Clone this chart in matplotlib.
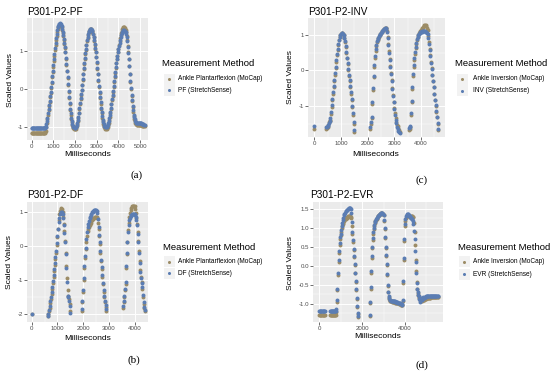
import numpy as np
import matplotlib
matplotlib.use('Agg')
import matplotlib.pyplot as plt
from matplotlib.patches import Rectangle

plt.rcParams['font.family'] = ['Liberation Sans', 'DejaVu Sans']
plt.rcParams['axes.unicode_minus'] = False

W, H = 550, 371
N = np.nan
STEP_MS = 25  # sampling step of the value lists below (ms); one row = 500 ms

# ---------------- Panel (a): PF ----------------
pf_mocap = [
    -1.17, -1.17, -1.17, -1.17, -1.17, -1.17, -1.17, -1.17, -1.17, -1.17, -1.17, -1.17, -1.17, -1.17, -1.17, -1.17, -1.17, -1.17, -1.17, -1.17,
    -1.17, -1.17, -1.17, -1.17, -1.17, -1.15, -1.10, -1.01, -0.90, -0.79, -0.68, -0.57, -0.45, -0.34, -0.22, -0.10, 0.02, 0.16, 0.30, 0.44,
    0.58, 0.73, 0.88, 1.02, 1.15, 1.28, 1.40, 1.50, 1.57, 1.62, 1.65, 1.67, 1.68, 1.67, 1.66, 1.62, 1.56, 1.48, 1.40, 1.30,
    1.18, 1.08, 0.96, 0.80, 0.63, 0.46, 0.28, 0.10, -0.07, -0.24, -0.40, -0.55, -0.68, -0.79, -0.88, -0.95, -1.00, -1.03, -1.05, -1.06,
    -1.06, -1.05, -1.02, -0.98, -0.92, -0.85, -0.77, -0.65, -0.52, -0.40, -0.27, -0.15, -0.04, 0.09, 0.23, 0.38, 0.52, 0.66, 0.80, 0.92,
    1.03, 1.15, 1.26, 1.35, 1.43, 1.49, 1.53, 1.55, 1.57, 1.57, 1.57, 1.54, 1.50, 1.44, 1.36, 1.27, 1.16, 1.06, 0.96, 0.83,
    0.68, 0.53, 0.38, 0.21, 0.05, -0.10, -0.25, -0.39, -0.53, -0.65, -0.76, -0.85, -0.92, -0.98, -1.02, -1.04, -1.06, -1.06, -1.06, -1.04,
    -1.00, -0.95, -0.90, -0.82, -0.73, -0.63, -0.52, -0.41, -0.30, -0.19, -0.07, 0.06, 0.18, 0.31, 0.43, 0.55, 0.67, 0.78, 0.88, 0.97,
    1.06, 1.16, 1.25, 1.34, 1.42, 1.48, 1.53, 1.57, 1.60, 1.62, 1.62, 1.62, 1.60, 1.56, 1.50, 1.40, 1.28, 1.13, 0.97, 0.79,
    0.60, 0.39, 0.18, 0.00, -0.18, -0.33, -0.48, -0.61, -0.72, -0.79, -0.85, -0.89, -0.92, -0.94, -0.95, -0.95, -0.95, -0.95, -0.95, -0.95,
    -0.95, -0.95, -0.96, -0.96, -0.97, -0.97, -0.98, -0.98, -0.98,
]
pf_stretch = [
    -1.03, -1.03, -1.03, -1.03, -1.03, -1.03, -1.03, -1.03, -1.03, -1.03, -1.03, -1.03, -1.03, -1.03, -1.03, -1.03, -1.03, -1.03, -1.03, -1.03,
    -1.03, -1.03, -1.03, -1.03, -1.03, -1.02, -1.00, -0.94, -0.85, -0.76, -0.65, -0.54, -0.42, -0.31, -0.20, -0.08, 0.05, 0.19, 0.33, 0.47,
    0.62, 0.78, 0.93, 1.07, 1.20, 1.33, 1.45, 1.55, 1.62, 1.67, 1.70, 1.72, 1.73, 1.72, 1.70, 1.65, 1.58, 1.50, 1.42, 1.32,
    1.20, 1.10, 0.98, 0.82, 0.65, 0.48, 0.30, 0.12, -0.05, -0.22, -0.38, -0.52, -0.65, -0.76, -0.85, -0.92, -0.97, -1.00, -1.02, -1.03,
    -1.03, -1.02, -1.00, -0.96, -0.90, -0.83, -0.75, -0.63, -0.50, -0.38, -0.25, -0.13, -0.02, 0.11, 0.25, 0.40, 0.55, 0.69, 0.82, 0.94,
    1.05, 1.17, 1.28, 1.37, 1.45, 1.50, 1.54, 1.56, 1.58, 1.58, 1.58, 1.56, 1.52, 1.46, 1.38, 1.29, 1.18, 1.08, 0.98, 0.85,
    0.70, 0.55, 0.40, 0.24, 0.08, -0.07, -0.22, -0.36, -0.50, -0.62, -0.72, -0.81, -0.88, -0.93, -0.97, -0.99, -1.00, -1.00, -1.00, -0.98,
    -0.95, -0.90, -0.85, -0.78, -0.70, -0.60, -0.50, -0.39, -0.28, -0.17, -0.05, 0.08, 0.20, 0.33, 0.45, 0.57, 0.68, 0.78, 0.88, 0.97,
    1.05, 1.14, 1.22, 1.30, 1.38, 1.43, 1.48, 1.51, 1.54, 1.55, 1.55, 1.54, 1.53, 1.50, 1.45, 1.36, 1.25, 1.11, 0.95, 0.78,
    0.60, 0.40, 0.20, 0.02, -0.15, -0.30, -0.45, -0.57, -0.68, -0.75, -0.80, -0.84, -0.87, -0.89, -0.90, -0.90, -0.90, -0.90, -0.90, -0.90,
    -0.90, -0.90, -0.91, -0.92, -0.93, -0.93, -0.94, -0.95, -0.95,
]

# ---------------- Panel (c): INV ----------------
inv_mocap = [
    -1.65, N, N, N, N, N, N, N, N, N, N, N, N, N, N, N, N, N, -1.65, -1.62,
    -1.60, -1.52, -1.45, -1.42, -1.40, -1.22, -1.02, -0.84, -0.66, -0.48, -0.30, -0.12, 0.06, 0.24, 0.42, 0.58, 0.72, 0.84, 0.93, 0.98,
    1.02, 1.04, 1.05, 1.03, 1.00, 0.91, 0.80, 0.66, 0.50, 0.34, 0.18, 0.02, -0.15, -0.31, -0.48, -0.65, -0.83, -1.03, -1.25, -1.50,
    -1.72, N, N, N, N, N, N, N, N, N, N, N, N, N, N, N, N, N, N, N,
    N, N, N, N, -1.65, -1.50, -1.35, -0.95, -0.55, -0.20, 0.10, 0.35, 0.55, 0.69, 0.80, 0.85, 0.90, 0.94, 0.98, 1.01,
    1.04, 1.07, 1.10, 1.13, 1.15, 1.17, 1.19, 1.19, 1.18, 1.10, 0.95, 0.75, 0.53, 0.33, 0.13, -0.07, -0.28, -0.49, -0.70, -0.88,
    -1.05, -1.20, -1.35, -1.45, -1.52, -1.57, -1.62, -1.67, -1.72, N, N, N, N, N, N, N, N, N, N, N,
    N, N, -1.68, -1.65, -1.60, -1.25, -0.90, -0.52, -0.15, 0.10, 0.30, 0.47, 0.62, 0.75, 0.86, 0.94, 1.00, 1.04, 1.08, 1.10,
    1.12, 1.15, 1.18, 1.21, 1.24, 1.26, 1.27, 1.26, 1.24, 1.19, 1.12, 0.97, 0.80, 0.61, 0.42, 0.24, 0.06, -0.12, -0.30, -0.48,
    -0.66, -0.83, -1.00, -1.16, -1.32, -1.50, -1.68,
]
inv_stretch = [
    -1.56, N, N, N, N, N, N, N, N, N, N, N, N, N, N, N, N, N, -1.60, -1.58,
    -1.55, -1.52, -1.48, -1.42, -1.35, -1.18, -0.98, -0.80, -0.62, -0.44, -0.26, -0.08, 0.10, 0.28, 0.45, 0.61, 0.75, 0.86, 0.95, 1.00,
    1.03, 1.05, 1.05, 1.03, 1.00, 0.92, 0.82, 0.68, 0.52, 0.36, 0.20, 0.04, -0.12, -0.28, -0.45, -0.62, -0.80, -1.00, -1.20, -1.45,
    -1.68, N, N, N, N, N, N, N, N, N, N, N, N, N, N, N, N, N, N, N,
    N, N, N, N, -1.60, -1.45, -1.30, -0.90, -0.50, -0.15, 0.15, 0.40, 0.60, 0.72, 0.82, 0.87, 0.92, 0.96, 1.00, 1.03,
    1.05, 1.08, 1.10, 1.13, 1.15, 1.17, 1.18, 1.18, 1.17, 1.08, 0.92, 0.72, 0.50, 0.30, 0.10, -0.10, -0.30, -0.51, -0.72, -0.90,
    -1.08, -1.24, -1.38, -1.49, -1.58, -1.65, -1.70, -1.73, -1.75, N, N, N, N, N, N, N, N, N, N, N,
    N, N, -1.62, -1.60, -1.55, -1.20, -0.85, -0.48, -0.10, 0.15, 0.35, 0.52, 0.65, 0.78, 0.88, 0.95, 1.00, 1.03, 1.05, 1.07,
    1.08, 1.09, 1.10, 1.10, 1.10, 1.10, 1.10, 1.09, 1.08, 1.06, 1.02, 0.90, 0.75, 0.58, 0.40, 0.22, 0.05, -0.12, -0.30, -0.47,
    -0.65, -0.82, -0.98, -1.14, -1.30, -1.48, -1.65,
]

# ---------------- Panel (b): DF ----------------
df_mocap = [
    -2.00, N, N, N, N, N, N, N, N, N, N, N, N, N, N, N, N, N, N, N,
    N, N, N, N, N, -2.05, -2.00, -1.90, -1.80, -1.68, -1.55, -1.40, -1.25, -1.08, -0.90, -0.72, -0.55, -0.38, -0.20, 0.02,
    0.25, 0.50, 0.75, 0.92, 1.02, 1.08, 1.10, 1.07, 1.00, 0.85, 0.65, 0.42, 0.15, -0.20, -0.60, -0.95, -1.30, -1.45, -1.55, -1.70,
    -1.90, N, N, N, N, N, N, N, N, N, N, N, N, N, N, N, N, N, -1.90, -1.65,
    -1.35, -1.00, -0.65, -0.35, -0.10, 0.12, 0.30, 0.42, 0.50, 0.56, 0.60, 0.64, 0.68, 0.72, 0.75, 0.78, 0.80, 0.82, 0.83, 0.84,
    0.85, 0.84, 0.80, 0.68, 0.50, 0.28, 0.05, -0.20, -0.45, -0.68, -0.90, -1.12, -1.35, -1.50, -1.65, -1.78, -1.90, N, N, N,
    N, N, N, N, N, N, N, N, N, N, N, N, N, N, N, N, N, N, N, N,
    N, N, -1.80, -1.65, -1.50, -1.30, -1.10, -0.65, -0.25, 0.10, 0.45, 0.68, 0.85, 0.97, 1.05, 1.10, 1.15, 1.16, 1.16, 1.16,
    1.15, 1.08, 0.95, 0.82, 0.65, 0.40, 0.15, -0.15, -0.45, -0.70, -0.90, -1.05, -1.25, -1.48, -1.70, -1.82, -1.90,
]
df_stretch = [
    -2.00, N, N, N, N, N, N, N, N, N, N, N, N, N, N, N, N, N, N, N,
    N, N, N, N, N, -2.05, -2.00, -1.88, -1.75, -1.62, -1.50, -1.35, -1.20, -1.03, -0.85, -0.68, -0.50, -0.33, -0.15, 0.08,
    0.30, 0.50, 0.70, 0.82, 0.92, 0.97, 1.00, 0.98, 0.92, 0.80, 0.60, 0.38, 0.10, -0.25, -0.65, -1.05, -1.45, -1.50, -1.60, -1.75,
    -1.95, N, N, N, N, N, N, N, N, N, N, N, N, N, N, N, N, N, -1.85, -1.60,
    -1.30, -0.95, -0.60, -0.30, -0.05, 0.20, 0.40, 0.55, 0.65, 0.73, 0.80, 0.85, 0.90, 0.94, 0.98, 1.00, 1.03, 1.04, 1.05, 1.05,
    1.05, 1.02, 0.95, 0.78, 0.55, 0.32, 0.10, -0.15, -0.40, -0.62, -0.85, -1.08, -1.30, -1.45, -1.60, -1.72, -1.85, N, N, N,
    N, N, N, N, N, N, N, N, N, N, N, N, N, N, N, N, N, N, N, N,
    N, N, -1.75, -1.60, -1.45, -1.25, -1.05, -0.60, -0.20, 0.10, 0.40, 0.60, 0.75, 0.82, 0.88, 0.90, 0.92, 0.93, 0.93, 0.93,
    0.92, 0.90, 0.85, 0.75, 0.60, 0.35, 0.10, -0.20, -0.50, -0.75, -0.95, -1.08, -1.20, -1.42, -1.65, -1.78, -1.88,
]

# ---------------- Panel (d): EVR ----------------
evr_mocap = [
    -1.30, -1.30, -1.30, -1.30, -1.30, -1.30, -1.30, -1.30, -1.30, -1.30, -1.30, N, N, N, N, N, N, N, N, N,
    -1.30, -1.30, -1.30, -1.30, -1.30, -1.30, -1.30, -1.30, -1.30, -1.30, -1.30, -1.30, -1.22, -0.95, -0.65, -0.25, 0.10, 0.35, 0.55, 0.70,
    0.80, 0.90, 1.00, 1.05, 1.10, 1.14, 1.18, 1.20, 1.22, 1.24, 1.25, 1.27, 1.28, 1.29, 1.30, 1.31, 1.32, 1.31, 1.30, 1.28,
    1.25, 1.05, 0.85, 0.63, 0.42, 0.22, 0.02, -0.20, -0.42, -0.65, -0.88, -1.08, -1.28, -1.34, N, N, N, N, N, N,
    N, N, N, N, N, N, N, N, N, N, N, N, N, N, -1.32, -0.98, -0.60, -0.20, 0.20, 0.46,
    0.68, 0.85, 0.97, 1.06, 1.12, 1.17, 1.20, 1.24, 1.27, 1.30, 1.32, 1.34, 1.35, 1.36, 1.37, 1.38, 1.38, 1.38, 1.37, 1.36,
    1.33, 1.18, 0.98, 0.72, 0.48, 0.25, 0.02, -0.25, -0.52, -0.70, -0.82, -0.88, -0.92, -0.93, -0.94, -0.94, -0.95, -0.95, -0.95, -0.96,
    -0.96, -0.96, -0.97, -0.97, -0.97, -0.98, -0.98, -0.99, -0.99, -1.00, -1.00, -1.01, -1.02, -1.03, -1.04, -1.02, -0.92, -0.45, 0.15, 0.65,
    1.05, 1.18, 1.27, 1.31, 1.33, 1.33, 1.33, 1.32, 1.30, 1.29, 1.28, 1.29, 1.30, 1.31, 1.30, 1.29, 1.28, 1.12, 0.90, 0.55,
    0.15, -0.15, -0.42, -0.60, -0.72, -0.78, -0.82, -0.86, -0.88, -0.90, -0.90, -0.92, -0.92, -0.90, -0.88, -0.89, -0.90, -0.88, -0.88, -0.87,
    -0.85, -0.85, -0.85, -0.84, -0.84, -0.84, -0.84, -0.84, -0.83, -0.83, -0.83, -0.83, -0.83, -0.83, -0.83, -0.83, -0.83, -0.83, -0.83, -0.83,
    -0.83, -0.83, -0.83,
]
evr_stretch = [
    -1.20, -1.20, -1.20, -1.20, -1.20, -1.20, -1.20, -1.20, -1.20, -1.20, -1.20, N, N, N, N, N, N, N, N, N,
    -1.20, -1.20, -1.20, -1.20, -1.20, -1.20, -1.20, -1.20, -1.20, -1.20, -1.20, -1.20, -1.15, -0.90, -0.60, -0.20, 0.15, 0.40, 0.60, 0.75,
    0.85, 0.95, 1.05, 1.13, 1.20, 1.27, 1.33, 1.37, 1.40, 1.43, 1.45, 1.46, 1.47, 1.49, 1.50, 1.51, 1.52, 1.52, 1.52, 1.50,
    1.40, 1.15, 0.90, 0.67, 0.45, 0.25, 0.05, -0.18, -0.40, -0.62, -0.85, -1.05, -1.25, -1.32, N, N, N, N, N, N,
    N, N, N, N, N, N, N, N, N, N, N, N, N, N, -1.30, -0.95, -0.55, -0.15, 0.25, 0.50,
    0.72, 0.88, 1.00, 1.08, 1.15, 1.19, 1.22, 1.25, 1.27, 1.30, 1.32, 1.34, 1.35, 1.36, 1.37, 1.38, 1.38, 1.38, 1.38, 1.37,
    1.35, 1.20, 1.00, 0.75, 0.50, 0.28, 0.05, -0.22, -0.50, -0.68, -0.80, -0.86, -0.90, -0.91, -0.92, -0.92, -0.93, -0.93, -0.93, -0.94,
    -0.94, -0.94, -0.95, -0.95, -0.95, -0.96, -0.96, -0.97, -0.97, -0.98, -0.98, -0.99, -1.00, -1.01, -1.02, -1.00, -0.90, -0.40, 0.20, 0.70,
    1.10, 1.22, 1.30, 1.35, 1.37, 1.37, 1.36, 1.34, 1.32, 1.30, 1.28, 1.27, 1.25, 1.24, 1.22, 1.18, 1.10, 0.92, 0.70, 0.40,
    0.10, -0.18, -0.45, -0.60, -0.70, -0.76, -0.80, -0.88, -0.95, -0.90, -0.85, -0.88, -0.90, -0.86, -0.82, -0.84, -0.85, -0.83, -0.82, -0.81,
    -0.80, -0.80, -0.80, -0.80, -0.80, -0.80, -0.80, -0.80, -0.80, -0.80, -0.80, -0.80, -0.80, -0.80, -0.80, -0.80, -0.80, -0.80, -0.80, -0.80,
    -0.80, -0.80, -0.80,
]

MOCAP_COLOR = '#9C8C66'
SS_COLOR = '#5B7DB3'

fig = plt.figure(figsize=(W / 100, H / 100), dpi=100)
fig.patch.set_facecolor('white')


def panel(box, mocap, stretch, xlim, ylim, xticks, xminor, yticks, yminor, ylabels):
    x0, y0, x1, y1 = box
    ax = fig.add_axes([x0 / W, 1 - y1 / H, (x1 - x0) / W, (y1 - y0) / H])
    ax.set_facecolor('#EBEBEB')
    for s in ax.spines.values():
        s.set_visible(False)
    tm = np.arange(len(mocap)) * STEP_MS
    ts = np.arange(len(stretch)) * STEP_MS
    ax.scatter(tm, mocap, s=8, c=MOCAP_COLOR, linewidths=0, zorder=2)
    ax.scatter(ts, stretch, s=8, c=SS_COLOR, linewidths=0, zorder=3)
    ax.set_xlim(*xlim)
    ax.set_ylim(*ylim)
    ax.set_xticks(xticks)
    ax.set_xticklabels([str(v) for v in xticks])
    ax.set_xticks(xminor, minor=True)
    ax.set_yticks(yticks)
    ax.set_yticklabels(ylabels)
    ax.set_yticks(yminor, minor=True)
    ax.set_axisbelow(True)
    ax.grid(which='major', color='white', linewidth=0.7)
    ax.grid(which='minor', color='white', linewidth=0.35)
    ax.tick_params(which='major', length=2, width=0.5, color='#333333',
                   labelsize=4.4, labelcolor='#4D4D4D', pad=1)
    ax.tick_params(which='minor', length=0)
    return ax


panel((27, 18, 148, 140), pf_mocap, pf_stretch, (-217, 5360), (-1.35, 1.87),
      [0, 1000, 2000, 3000, 4000, 5000], [500, 1500, 2500, 3500, 4500],
      [-1, 0, 1], [-0.5, 0.5, 1.5], ['-1', '0', '1'])
panel((308, 18, 445, 137), inv_mocap, inv_stretch, (-236, 4900), (-1.87, 1.47),
      [0, 1000, 2000, 3000, 4000], [500, 1500, 2500, 3500, 4500],
      [-1, 0, 1], [-1.5, -0.5, 0.5], ['-1', '0', '1'])
panel((27, 202, 148, 322), df_mocap, df_stretch, (-183, 4525), (-2.22, 1.28),
      [0, 1000, 2000, 3000, 4000], [500, 1500, 2500, 3500],
      [-2, -1, 0, 1], [-1.5, -0.5, 0.5], ['-2', '-1', '0', '1'])
panel((313, 202, 443, 322), evr_mocap, evr_stretch, (-294, 5780), (-1.48, 1.68),
      [0, 2000, 4000], [1000, 3000, 5000],
      [-1.0, -0.5, 0.0, 0.5, 1.0, 1.5], [-1.25, -0.75, -0.25, 0.25, 0.75, 1.25],
      ['-1.0', '-0.5', '0.0', '0.5', '1.0', '1.5'])

# overlay for titles, axis titles, legends and sub-captions (pixel coordinates)
ov = fig.add_axes([0, 0, 1, 1])
ov.set_xlim(0, W)
ov.set_ylim(H, 0)
ov.axis('off')

titles = [(27, 15, 'P301-P2-PF'), (308, 15, 'P301-P2-INV'),
          (27, 198, 'P301-P2-DF'), (310, 198, 'P301-P2-EVR')]
for x, y, s in titles:
    ov.text(x, y, s, fontsize=7.2, ha='left', va='baseline', color='black')

xlabels = [(88, 154), (376, 154), (88, 338), (378, 337)]
for x, y in xlabels:
    ov.text(x, y, 'Milliseconds', fontsize=6.1, ha='center', va='center')
ylabels_pos = [(11, 80), (290, 77), (10, 262), (291, 263)]
for x, y in ylabels_pos:
    ov.text(x, y, 'Scaled Values', fontsize=6.1, ha='center', va='center', rotation=90)

legends = [
    (162, 63, 169, 178, 79, 90, 'Ankle Plantarflexion (MoCap)', 'PF (StretchSense)'),
    (455, 63, 462, 473, 79, 90.5, 'Ankle Inversion (MoCap)', 'INV (StretchSense)'),
    (163, 247, 169, 178, 261.7, 273.3, 'Ankle Plantarflexion (MoCap)', 'DF (StretchSense)'),
    (458, 247, 464, 473, 261.7, 274, 'Ankle Inversion (MoCap)', 'EVR (StretchSense)'),
]
for tx, ty, kx, lx, y1, y2, lab1, lab2 in legends:
    ov.text(tx, ty, 'Measurement Method', fontsize=6.8, ha='left', va='center')
    for yy, col, lab in ((y1, MOCAP_COLOR, lab1), (y2, SS_COLOR, lab2)):
        ov.add_patch(Rectangle((kx - 5.5, yy - 5.5), 11, 11, facecolor='#F2F2F2',
                               edgecolor='none'))
        ov.plot([kx], [yy], 'o', ms=2.2, color=col, mec='none')
        ov.text(lx, yy, lab, fontsize=4.7, ha='left', va='center')

captions = [(137, 175, '(a)'), (134, 360, '(b)'), (422, 180, '(c)'), (422, 365, '(d)')]
for x, y, s in captions:
    ov.text(x, y, s, fontsize=8, ha='center', va='center',
            family=['Liberation Serif', 'DejaVu Serif'])

fig.savefig('out.png', dpi=100, facecolor='white')
